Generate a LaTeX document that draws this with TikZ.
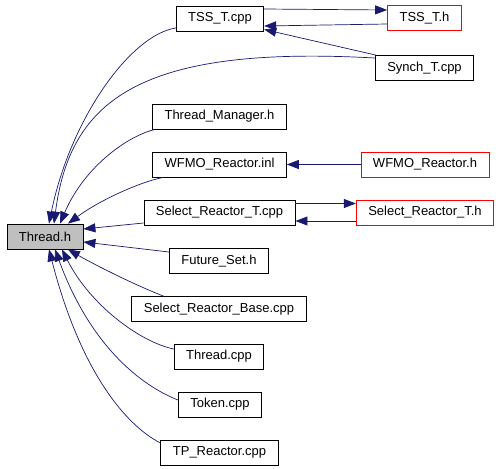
\documentclass[tikz,border=0pt]{standalone}
\usepackage{xcolor}
\usepackage{fontspec}
\setmainfont{Liberation Sans}
\usetikzlibrary{arrows.meta}

\definecolor{azulnoche}{HTML}{191970}
\definecolor{grisnodo}{HTML}{BFBFBF}

\tikzset{
  archivo/.style={draw=black, line width=0.8pt, inner xsep=12pt, inner ysep=0pt,
    minimum height=25pt, font=\fontsize{13}{15}\selectfont},
  externo/.style={archivo, draw=red},
  actual/.style={archivo, fill=grisnodo},
  flecha/.style={draw=azulnoche, line width=0.7pt,
    -{Triangle[length=12pt,width=9pt]}},
}

\begin{document}
\begin{tikzpicture}[x=1pt,y=-1pt]
        \useasboundingbox (0,0) rectangle (499,469);

        % Paso 1: Define el nodo central Thread.h
        \node[actual] (threadh) at (45,236.5) {Thread.h};

        % Paso 2: Define los archivos que lo incluyen
        \node[archivo] (tsscpp) at (220,18.5) {TSS\_T.cpp};
        \node[archivo] (synch) at (424.5,68) {Synch\_T.cpp};
        \node[archivo] (manager) at (219.5,116.5) {Thread\_Manager.h};
        \node[archivo] (wfmoinl) at (219.5,164.5) {WFMO\_Reactor.inl};
        \node[archivo] (selcpp) at (219.5,212.5) {Select\_Reactor\_T.cpp};
        \node[archivo] (future) at (219,261) {Future\_Set.h};
        \node[archivo] (base) at (219,309) {Select\_Reactor\_Base.cpp};
        \node[archivo] (threadcpp) at (219,356.5) {Thread.cpp};
        \node[archivo] (token) at (220,404.5) {Token.cpp};
        \node[archivo] (tp) at (219.5,452.5) {TP\_Reactor.cpp};

        % Paso 3: Define los archivos externos (borde rojo)
        \node[externo] (tssh) at (424.5,18) {TSS\_T.h};
        \node[externo] (wfmoh) at (425,164.5) {WFMO\_Reactor.h};
        \node[externo] (selh) at (425,212.5) {Select\_Reactor\_T.h};

        % Paso 4: Flechas hacia Thread.h (arriba)
        \draw[flecha] ([yshift=-9.5pt]tsscpp.west)
            .. controls (130,35) and (70,120) .. ([xshift=4pt]threadh.north);
        \draw[flecha] ([yshift=10pt]synch.west)
            .. controls (140,45) and (70,100) .. ([xshift=9pt]threadh.north);
        \draw[flecha] ([xshift=3pt]manager.south west)
            .. controls (130,135) and (85,165) .. ([xshift=15pt]threadh.north);
        \draw[flecha] ([xshift=11pt]wfmoinl.south west)
            .. controls (140,182) and (100,200) .. ([xshift=23pt]threadh.north);

        % Paso 5: Flechas hacia Thread.h (lado derecho)
        \draw[flecha] ([yshift=-10.5pt]selcpp.west) -- ([yshift=7.5pt]threadh.east);
        \draw[flecha] ([yshift=9pt]future.west) -- ([yshift=-5.5pt]threadh.east);

        % Paso 6: Flechas hacia Thread.h (abajo)
        \draw[flecha] ([xshift=32pt]base.north west)
            .. controls (135,285) and (95,265) .. ([xshift=23pt]threadh.south);
        \draw[flecha] ([yshift=7.5pt]threadcpp.west)
            .. controls (140,342) and (90,305) .. ([xshift=17pt]threadh.south);
        \draw[flecha] ([yshift=4.5pt]token.west)
            .. controls (140,385) and (90,345) .. ([xshift=10pt]threadh.south);
        \draw[flecha] ([yshift=9.5pt]tp.west)
            .. controls (125,425) and (80,370) .. ([xshift=4pt]threadh.south);

        % Paso 7: Flechas entre los demas archivos
        \draw[flecha] ([yshift=9.5pt]tsscpp.east) -- ([yshift=8pt]tssh.west);
        \draw[flecha] ([yshift=-6pt]tssh.west) -- ([yshift=-7.5pt]tsscpp.east);
        \draw[flecha] ([xshift=1pt]synch.north west) -- ([yshift=-11pt]tsscpp.east);
        \draw[flecha] (wfmoh.west) -- (wfmoinl.east);
        \draw[flecha] ([yshift=9pt]selcpp.east) -- ([yshift=9pt]selh.west);
        \draw[flecha] ([yshift=-8.5pt]selh.west) -- ([yshift=-8.5pt]selcpp.east);
    \end{tikzpicture}
\end{document}
